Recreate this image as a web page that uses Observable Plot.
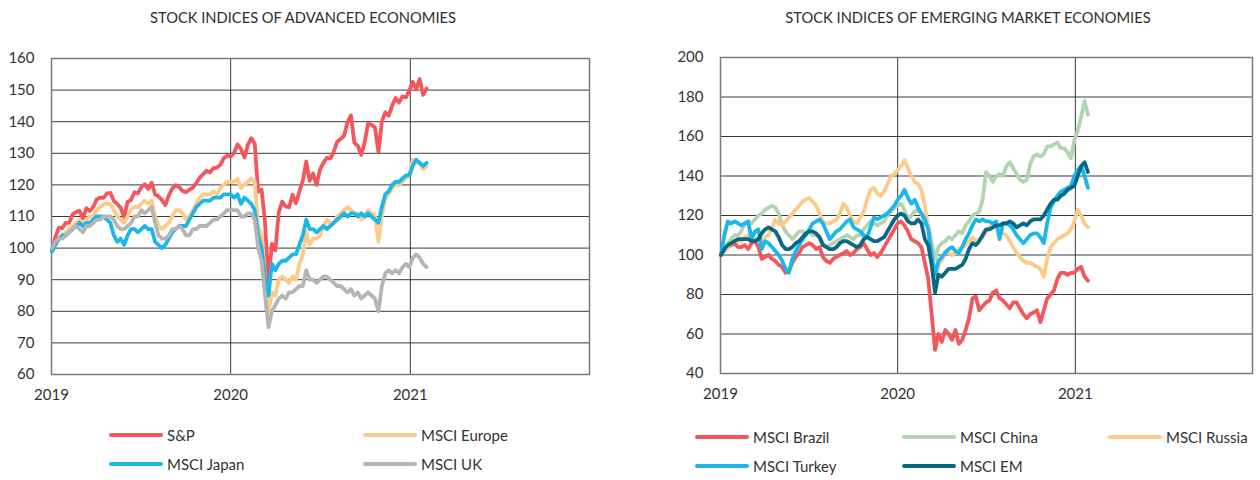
<!DOCTYPE html>
<html><head><meta charset="utf-8">
<script src="https://cdn.jsdelivr.net/npm/d3@7"></script>
<script src="https://cdn.jsdelivr.net/npm/@observablehq/plot@0.6"></script>
<style>
body{margin:0;background:#fff;font-family:Lato,"Open Sans",sans-serif;color:#333}
#page{position:relative;width:1260px;height:480px;overflow:hidden;background:#fff}
.title{position:absolute;top:8px;width:600px;text-align:center;font-size:14.7px;color:#2e2e2e}
.chart{position:absolute;top:40px}
.leg{position:absolute;display:flex;align-items:center;height:20px;font-size:15px;color:#333;white-space:nowrap}
.sw{width:54px;height:4px;border-radius:2px;margin-right:4px}
</style></head>
<body><div id="page">
<div class="title" style="left:3px">STOCK INDICES OF ADVANCED ECONOMIES</div>
<div class="title" style="left:668px">STOCK INDICES OF EMERGING MARKET ECONOMIES</div>
<div id="c1" class="chart" style="left:0"></div>
<div id="c2" class="chart" style="left:640px"></div>
</div>
<script>
// weekly observations (Wednesdays), 2019-01-02 .. 2021-02-03
const dates = d3.utcWednesday.range(new Date(Date.UTC(2019,0,2)), new Date(Date.UTC(2021,1,4)));
const yearTicks = ["2019","2020","2021"];
const yearGrid = ["2020","2021"];
const advTicks = [60,70,80,90,100,110,120,130,140,150,160];
const emTicks = [40,60,80,100,120,140,160,180,200];

const advNames = ["S&P","MSCI Europe","MSCI Japan","MSCI UK"];
const advColors = ["#f4575b","#fdca8a","#1ab7ea","#b5b5b5"];
const emNames = ["MSCI Brazil","MSCI China","MSCI Russia","MSCI Turkey","MSCI EM"];
const emColors = ["#f4575b","#b2d4b1","#fdca8a","#1ab7ea","#0b6884"];

const sp = [99,103.5,106.5,106.3,108,108,110.7,111.4,111.8,109.4,
112.6,111.7,113,115.4,116,115.9,117.3,117.5,114.9,114,
112.7,109.8,114.6,115.2,117.7,117.3,119.3,120.2,118.7,120.7,
117,116.4,115.2,113.6,116.7,118.8,119.9,119.3,118.1,117.7,
118.5,119.1,120.6,122.3,123.4,124.5,124,125.3,125.5,126.4,
128.5,129.2,129,130.2,132.8,131.4,128.7,132.7,134.8,133.1,
117.8,118.5,108.1,89,101.4,99.3,111.3,114.7,113.2,112.9,
116.9,114.2,117.9,121.4,127.4,121.3,123.6,120,124.9,127,
128.6,128.3,130.5,133.7,134.5,135.5,139.9,142,133.3,132.4,
129.5,133.5,139.5,139,138.2,130.4,140,143,141.9,145.1,
147.5,146.1,148,147.7,149.8,152.6,150.3,153.5,148.5,150.5];
const europe = [100,101,103,104,105,106,107,108,109,108,
109,110,110,112,113,114,114,114,112,110,
109,108,110,112,113,113,114,115,114,115,
110,107,106,107,108,110,112,112,111,109,
110,112,114,116,117,117,117,118,117,119,
120,121,121,121,122,119,120,121,122,121,
107,104,90,80,86,85,90,91,90,89,
91,90,95,98,105,101,103,103,104,107,
109,108,108,110,111,112,113,112,111,111,
109,110,112,111,110,102,110,116,117,119,
120,120,121,122,123,128,127,127,125,126];
const japan = [99,101,103,104,104,105,106,107,108,107,
108,108,109,110,110,110,109,108,104,102,
103,101,104,106,106,105,106,107,106,106,
102,101,100,101,103,105,106,107,107,107,
109,111,113,114,115,115,115,116,116,116,
117,117,117,116,117,114,116,115,114,112,
104,100,90,85,95,93,95,96,96,97,
98,98,101,104,109,106,106,105,106,107,
106,107,108,109,110,111,110,111,111,110,
111,110,111,110,109,108,113,117,118,120,
121,121,122,123,123,126,128,127,126,127];
const uk = [100,102,103,103,104,105,106,107,106,105,
107,107,108,109,109,110,110,110,109,107,
106,106,107,108,110,110,112,111,112,113,
108,104,103,103,104,106,106,107,106,104,
104,106,106,107,107,107,108,109,109,110,
111,112,112,112,112,110,110,111,111,109,
100,96,85,75,80,82,84,85,84,86,
86,87,88,88,93,90,90,89,90,91,
91,90,89,88,88,87,86,87,85,86,
84,85,86,85,84,80,88,92,93,92,
93,92,94,95,94,97,98,97,95,94];

const brazil = [100,102,104,105,106,104,104,105,103,106,
107,104,98,99,100,98,97,95,94,91,
92,96,99,101,104,105,106,105,103,104,
99,97,96,98,99,100,101,102,100,101,
103,104,106,103,100,101,99,101,104,107,
110,113,116,117,115,112,108,107,106,104,
96,88,70,52,60,56,62,60,57,62,
55,57,62,68,78,79,72,74,76,77,
81,82,78,77,75,73,76,76,73,70,
68,70,71,72,66,72,78,80,82,88,
91,91,90,91,91,93,94,89,87];
const china = [100,103,106,108,110,110,112,116,117,116,
118,120,121,123,124,125,124,121,115,112,
110,108,110,112,112,111,112,110,110,109,
106,104,105,106,107,108,109,110,109,108,
110,110,113,115,117,116,115,116,117,120,
122,124,125,126,123,118,120,122,123,121,
116,115,106,98,104,106,107,109,108,110,
112,111,115,117,120,121,122,128,142,140,
137,140,141,140,145,147,144,141,138,137,
138,146,150,151,150,151,155,155,156,157,
154,154,152,149,158,163,170,178,171];
const russia = [100,102,104,106,107,107,107,109,110,109,
108,108,107,109,110,114,118,116,115,117,
119,121,123,125,127,128,129,127,125,121,
117,116,116,117,118,121,126,124,120,117,
116,119,122,128,133,134,131,130,132,136,
140,141,143,145,148,144,140,137,136,133,
125,113,98,86,95,97,102,101,100,101,
103,104,105,107,109,107,108,109,112,114,
116,114,112,111,110,107,104,101,99,97,
96,96,95,94,93,89,98,104,106,108,
109,110,111,113,117,123,120,116,114];
const turkey = [100,110,117,116,117,116,115,116,117,108,
112,113,103,107,106,104,102,100,97,93,
91,98,102,105,108,110,113,116,117,118,
116,112,108,110,112,113,115,117,118,114,
113,112,110,109,114,119,118,119,120,121,
123,125,128,130,133,129,126,128,124,121,
118,113,100,90,97,99,101,103,104,102,
101,104,108,111,115,118,117,118,117,117,
116,117,108,116,116,115,113,110,108,106,
108,110,111,111,109,106,116,124,127,130,
132,133,134,135,140,143,145,140,134];
const em = [100,103,105,106,107,108,108,108,108,107,
107,108,111,113,114,113,112,109,105,103,
103,104,106,107,109,111,112,112,111,109,
105,104,103,103,104,106,107,107,106,105,
104,105,108,109,108,107,107,108,109,112,
115,118,120,121,120,117,116,116,118,116,
108,105,95,81,90,89,91,93,93,93,
94,95,98,103,106,105,107,110,113,113,
114,115,115,116,116,117,116,114,115,116,
115,117,118,118,118,120,123,126,128,128,
130,131,133,134,135,140,145,147,142];

function tidy(names, series) {
  const out = [];
  names.forEach((n, i) => series[i].forEach((v, j) => out.push({series: n, date: dates[j], value: v})));
  return out;
}
const yr = s => new Date(Date.UTC(+s, 0, 1));

function chart(el, {data, names, colors, yTicks, width, marginLeft, marginRight, marginTop, marginBottom}) {
  const p = Plot.plot({
    width, height: 370, marginLeft, marginRight, marginTop, marginBottom,
    style: {fontFamily: "Lato, 'Open Sans', sans-serif", fontSize: "15px", color: "#333", background: "transparent"},
    x: {type: "utc", domain: [yr("2019"), yr("2022")]},
    y: {domain: [yTicks[0], yTicks[yTicks.length - 1]]},
    color: {domain: names, range: colors},
    marks: [
      Plot.ruleY(yTicks, {stroke: "#3a3a3a", strokeWidth: 1}),
      Plot.ruleX(yearGrid.map(yr), {stroke: "#3a3a3a", strokeWidth: 1}),
      Plot.frame({stroke: "#7a7a7a", strokeWidth: 1.5}),
      Plot.line(data, {x: "date", y: "value", z: "series", stroke: "series", strokeWidth: 3.8, strokeLinejoin: "round", strokeLinecap: "round"}),
      Plot.axisY(yTicks, {tickSize: 0, tickPadding: 17, fontSize: 15, label: null}),
      Plot.axisX(yearTicks.map(yr), {tickSize: 0, tickPadding: 15, fontSize: 15, tickFormat: d3.utcFormat("%Y"), label: null})
    ]
  });
  document.getElementById(el).appendChild(p);
}

chart("c1", {data: tidy(advNames, [sp, europe, japan, uk]), names: advNames, colors: advColors, yTicks: advTicks,
  width: 600, marginLeft: 51, marginRight: 11, marginTop: 18, marginBottom: 36});
chart("c2", {data: tidy(emNames, [brazil, china, russia, turkey, em]), names: emNames, colors: emColors, yTicks: emTicks,
  width: 620, marginLeft: 80, marginRight: 8, marginTop: 17, marginBottom: 37});

function legend(names, colors, cols, rows) {
  const page = document.getElementById("page");
  names.forEach((n, i) => {
    const d = document.createElement("div");
    d.className = "leg";
    d.style.left = cols[i % cols.length] + "px";
    d.style.top = (rows[Math.floor(i / cols.length)] - 10) + "px";
    const s = document.createElement("div");
    s.className = "sw"; s.style.background = colors[i];
    d.appendChild(s);
    d.appendChild(document.createTextNode(n));
    page.appendChild(d);
  });
}
legend(advNames, advColors, [109, 363], [435, 464]);
legend(emNames, emColors, [695, 902, 1108], [437, 466]);
</script>
</body></html>
